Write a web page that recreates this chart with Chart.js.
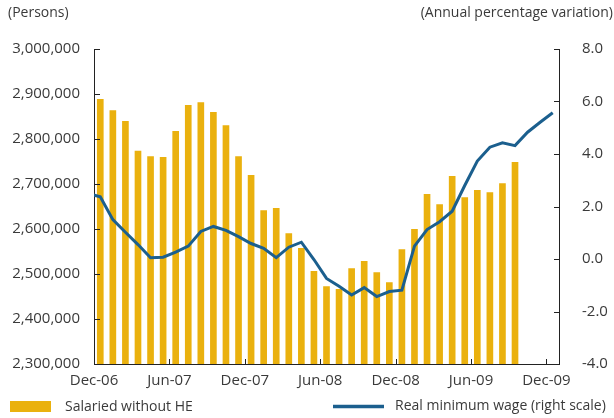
<!DOCTYPE html>
<html>
<head>
<meta charset="utf-8">
<script src="https://cdn.jsdelivr.net/npm/chart.js@4/dist/chart.umd.min.js"></script>
<style>
  html, body { margin: 0; padding: 0; background: #fff; }
  #wrap { position: relative; width: 614px; height: 418px; }
</style>
</head>
<body>
<div id="wrap"><canvas id="chart" width="614" height="418"></canvas></div>
<script>
// monthly data, Nov-06 .. Dec-09
const months = [
  'Nov-06', 'Dec-06',
  'Jan-07', 'Feb-07', 'Mar-07', 'Apr-07', 'May-07', 'Jun-07',
  'Jul-07', 'Aug-07', 'Sep-07', 'Oct-07', 'Nov-07', 'Dec-07',
  'Jan-08', 'Feb-08', 'Mar-08', 'Apr-08', 'May-08', 'Jun-08',
  'Jul-08', 'Aug-08', 'Sep-08', 'Oct-08', 'Nov-08', 'Dec-08',
  'Jan-09', 'Feb-09', 'Mar-09', 'Apr-09', 'May-09', 'Jun-09',
  'Jul-09', 'Aug-09', 'Sep-09', 'Oct-09', 'Nov-09', 'Dec-09'
];

const salaried = [
  null, 2888000,
  2863000, 2839000, 2773000, 2761000, 2759000, 2817000,
  2875000, 2881000, 2859000, 2830000, 2761000, 2719000,
  2641000, 2646000, 2590000, 2557000, 2506000, 2472000,
  2466000, 2512000, 2528000, 2503000, 2481000, 2554000,
  2599000, 2677000, 2654000, 2717000, 2670000, 2686000,
  2681000, 2701000, 2748000, null, null, null
];

const minimumWage = [
  2.5, 2.37,
  1.5, 1.02, 0.55, 0.05, 0.07, 0.26,
  0.49, 1.05, 1.24, 1.09, 0.85, 0.59,
  0.41, 0.05, 0.45, 0.64, -0.02, -0.74,
  -1.04, -1.37, -1.09, -1.43, -1.24, -1.19,
  0.49, 1.12, 1.42, 1.82, 2.8, 3.73,
  4.26, 4.43, 4.32, 4.83, 5.21, 5.57
];

const tickLabels = ['Dec-06', 'Jun-07', 'Dec-07', 'Jun-08', 'Dec-08', 'Jun-09', 'Dec-09'];

const FONT = 'Open Sans';
const TEXT = '#3a3a3a';
const GOLD = '#EAB10E';
const BLUE = '#1B5F8E';

// month i sits in the middle of its slot, Dec-06 slot starts at 0
const xOf = i => i - 0.5;

const barData = salaried.map((v, i) => ({ x: xOf(i), y: v })).filter(p => p.y !== null);
const lineData = minimumWage.map((v, i) => ({ x: xOf(i), y: v }));

// ticks drawn inward, titles and legend
const decorations = {
  id: 'decorations',
  afterDraw(chart) {
    const ctx = chart.ctx;
    const area = chart.chartArea;
    const { x, y, y1 } = chart.scales;
    ctx.save();
    ctx.strokeStyle = '#222';
    ctx.lineWidth = 1;
    ctx.beginPath();
    y.ticks.forEach(t => {
      const py = Math.round(y.getPixelForValue(t.value)) + 0.5;
      ctx.moveTo(area.left, py);
      ctx.lineTo(area.left + 6, py);
    });
    y1.ticks.forEach(t => {
      const py = Math.round(y1.getPixelForValue(t.value)) + 0.5;
      ctx.moveTo(area.right, py);
      ctx.lineTo(area.right - 5, py);
    });
    x.ticks.forEach(t => {
      const px = Math.round(x.getPixelForValue(t.value)) + 0.5;
      ctx.moveTo(px, area.bottom);
      ctx.lineTo(px, area.bottom - 5);
    });
    ctx.stroke();

    ctx.fillStyle = TEXT;
    ctx.font = '14px "' + FONT + '"';
    ctx.textBaseline = 'middle';
    ctx.textAlign = 'left';
    ctx.fillText('(Persons)', 8, 13);
    ctx.textAlign = 'right';
    ctx.fillText('(Annual percentage variation)', 613, 13);

    // legend
    ctx.textAlign = 'left';
    ctx.font = '14px "' + FONT + '"';
    ctx.fillStyle = GOLD;
    ctx.fillRect(10, 401, 41, 11);
    ctx.fillStyle = TEXT;
    ctx.fillText(chart.data.datasets[0].label, 65, 407);
    ctx.strokeStyle = BLUE;
    ctx.lineWidth = 3.5;
    ctx.beginPath();
    ctx.moveTo(333, 406.5);
    ctx.lineTo(384, 406.5);
    ctx.stroke();
    ctx.fillText(chart.data.datasets[1].label, 395, 406);
    ctx.restore();
  }
};

const tickFont = { family: FONT, size: 15 };

new Chart(document.getElementById('chart'), {
  data: {
    datasets: [
      {
        type: 'bar',
        label: 'Salaried without HE',
        data: barData,
        yAxisID: 'y',
        backgroundColor: GOLD,
        barThickness: 6,
        order: 2
      },
      {
        type: 'line',
        label: 'Real minimum wage (right scale)',
        data: lineData,
        yAxisID: 'y1',
        borderColor: BLUE,
        borderWidth: 3,
        pointRadius: 0,
        tension: 0,
        clip: 0,
        order: 1
      }
    ]
  },
  options: {
    responsive: false,
    animation: false,
    layout: { padding: { top: 49, left: 0, right: 0, bottom: 0 } },
    plugins: { legend: { display: false }, tooltip: { enabled: false } },
    scales: {
      x: {
        type: 'linear',
        min: 0,
        max: 37,
        offset: false,
        grid: { display: false, drawTicks: false, offset: false },
        border: { color: '#222', width: 1 },
        afterBuildTicks: s => { s.ticks = tickLabels.map((l, i) => ({ value: i * 6 })); },
        afterFit: s => { s.height = 54; },
        ticks: {
          font: tickFont,
          color: TEXT,
          padding: 8,
          maxRotation: 0,
          autoSkip: false,
          callback: v => tickLabels[v / 6]
        }
      },
      y: {
        position: 'left',
        min: 2300000,
        max: 3000000,
        grid: { display: false, drawTicks: false },
        border: { color: '#222', width: 1 },
        afterFit: s => { s.width = 94; },
        ticks: {
          stepSize: 100000,
          font: tickFont,
          color: TEXT,
          padding: 14,
          callback: v => v.toLocaleString('en-US')
        }
      },
      y1: {
        position: 'right',
        min: -4,
        max: 8,
        grid: { display: false, drawTicks: false },
        border: { color: '#222', width: 1 },
        afterFit: s => { s.width = 55; },
        ticks: {
          stepSize: 2,
          font: tickFont,
          color: TEXT,
          padding: 23,
          callback: v => v.toFixed(1)
        }
      }
    }
  },
  plugins: [decorations]
});
</script>
</body>
</html>
